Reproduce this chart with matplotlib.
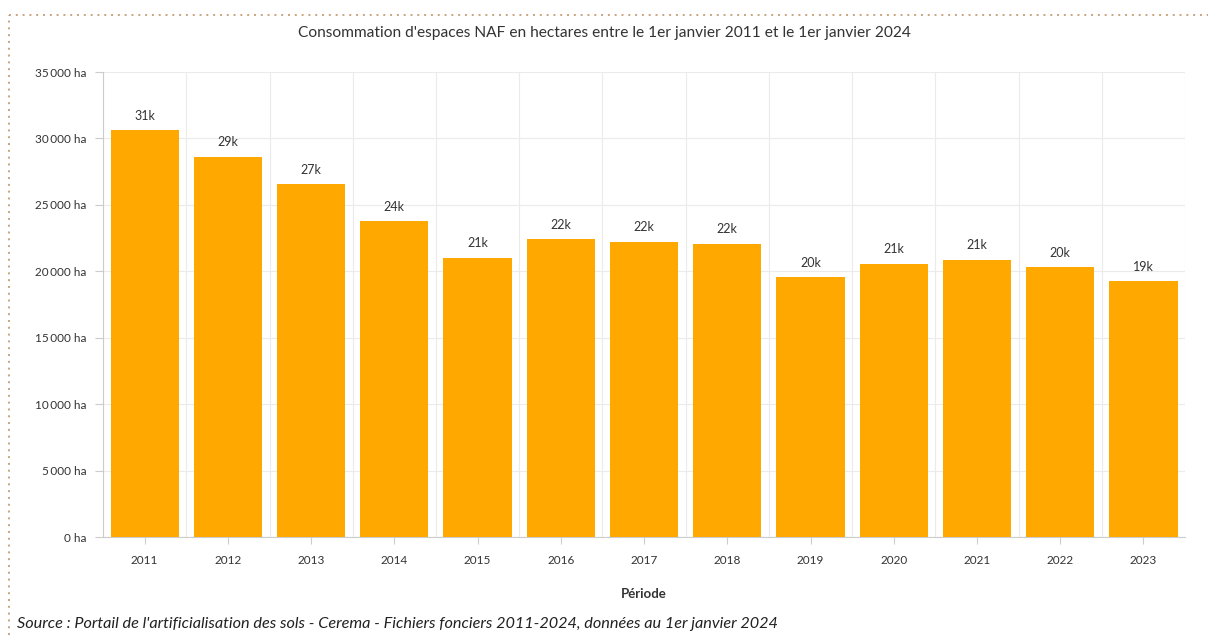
import matplotlib
matplotlib.use("Agg")
import matplotlib.pyplot as plt
from matplotlib.ticker import FuncFormatter

years = ["2011", "2012", "2013", "2014", "2015", "2016", "2017",
         "2018", "2019", "2020", "2021", "2022", "2023"]
hectares = [30600, 28600, 26550, 23750, 21000, 22400, 22200,
            22050, 19550, 20550, 20850, 20300, 19250]
labels = ["31k", "29k", "27k", "24k", "21k", "22k", "22k",
          "22k", "20k", "21k", "21k", "20k", "19k"]
yticks = [0, 5000, 10000, 15000, 20000, 25000, 30000, 35000]


def ha_formatter(x, pos):
    # french style thousands with thin space
    s = f"{int(x):,}".replace(",", "\u2009")
    return f"{s} ha"


def main():
    plt.rcParams['font.family'] = ['Lato', 'DejaVu Sans']
    fig = plt.figure(figsize=(12.08, 6.35), dpi=100)
    ax = fig.add_axes([0.0853, 0.1543, 0.8957, 0.7323])

    x = list(range(len(years)))
    ax.bar(x, hectares, width=0.82, color="#FFA900", zorder=3)
    for xi, v, lab in zip(x, hectares, labels):
        ax.text(xi, v + 650, lab, ha="center", va="bottom",
                fontsize=9, color="#333333", zorder=4)

    ax.set_xlim(-0.5, len(years) - 0.5)
    ax.set_ylim(0, 35000)
    ax.set_yticks(yticks)
    ax.yaxis.set_major_formatter(FuncFormatter(ha_formatter))
    ax.set_xticks(x)
    ax.set_xticklabels(years)

    # vertical grid at category boundaries
    for b in range(len(years) + 1):
        ax.axvline(b - 0.5, color="#ebebeb", lw=0.8, zorder=1)
    ax.grid(axis="y", color="#ebebeb", lw=0.8, zorder=1)

    for s in ax.spines.values():
        s.set_visible(False)
    ax.spines["left"].set_visible(True)
    ax.spines["left"].set_color("#cccccc")
    ax.spines["bottom"].set_visible(True)
    ax.spines["bottom"].set_color("#cccccc")

    ax.tick_params(axis="y", length=6, color="#cccccc", labelsize=8.5,
                   labelcolor="#333333", pad=6)
    ax.tick_params(axis="x", length=5, color="#cccccc", labelsize=8.5,
                   labelcolor="#333333", pad=8)

    ax.set_xlabel("Période", fontsize=9.5, fontweight="bold",
                  color="#333333", labelpad=16)
    fig.text(0.5, 0.948,
             "Consommation d'espaces NAF en hectares entre le 1er janvier 2011 et le 1er janvier 2024",
             ha="center", va="center", fontsize=11.2, color="#333333")
    fig.text(0.014, 0.018,
             "Source : Portail de l'artificialisation des sols - Cerema - Fichiers fonciers 2011-2024, données au 1er janvier 2024",
             ha="left", va="center", fontsize=11.7, style="italic", color="#222222")

    # dotted frame on the left and top
    fig.add_artist(plt.Line2D([0.0075, 0.0075], [0.0, 0.976],
                              transform=fig.transFigure, color="#c8a47e",
                              lw=1.4, ls=(0, (1, 2.5))))
    fig.add_artist(plt.Line2D([0.0075, 1.0], [0.976, 0.976],
                              transform=fig.transFigure, color="#c8a47e",
                              lw=1.4, ls=(0, (1, 2.5))))

    fig.savefig("out.png", dpi=100)


if __name__ == "__main__":
    main()
